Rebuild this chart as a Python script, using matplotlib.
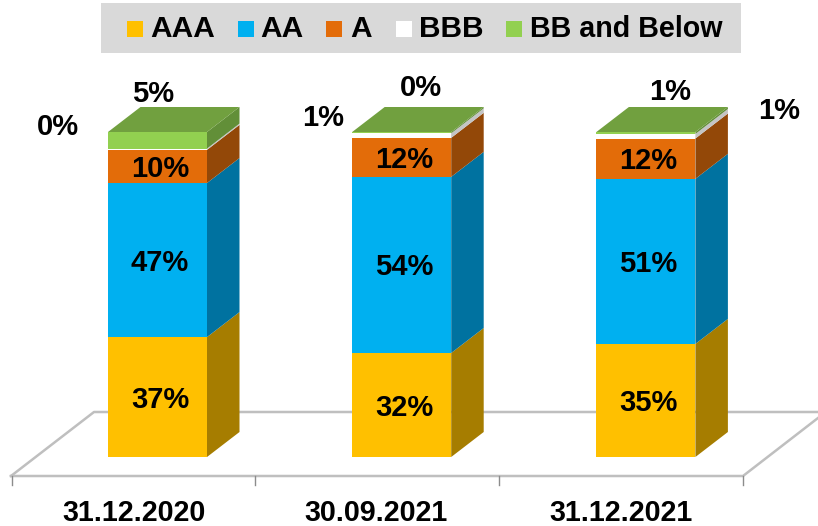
import matplotlib
matplotlib.use("Agg")
import matplotlib.pyplot as plt
from matplotlib.patches import Polygon, Rectangle
import numpy as np

plt.rcParams["font.family"] = ["Liberation Sans", "DejaVu Sans"]

# data
dates = ["31.12.2020", "30.09.2021", "31.12.2021"]
series = ["AAA", "AA", "A", "BBB", "BB and Below"]
aaa = [36.9, 32.0, 34.8]
aa = [47.4, 54.2, 50.8]
a = [10.2, 12.0, 12.4]
bbb = [0.4, 1.4, 1.4]
bb = [5.1, 0.4, 0.6]

front = ["#ffc000", "#00b0f0", "#e36c09", "#ffffff", "#92d050"]
side = ["#a67d00", "#0072a0", "#934808", "#c4c4c4", "#628f38"]
top_col = "#71a03f"
floor_col = "#bfbfbf"

W, H = 818, 526
fig = plt.figure(figsize=(W / 100, H / 100), dpi=100)

# pixel axes for floor, legend and outer labels
bg = fig.add_axes([0, 0, 1, 1], zorder=0)
bg.set_xlim(0, W)
bg.set_ylim(H, 0)
bg.axis("off")

# data axes for the bars: 244 px per category, 3.25 px per percent
px_x, px_y = 244.2, 3.25
x0, y0 = 157.5, 457
ax = fig.add_axes([0, 0, 1, 1], zorder=1)
ax.set_xlim(-x0 / px_x, (W - x0) / px_x)
ax.set_ylim((y0 - H) / px_y, y0 / px_y)
ax.axis("off")
ax.patch.set_alpha(0)

# floor
bg.plot([11, 743, 818], [476, 476, 418], color=floor_col, lw=1.8)
bg.plot([11, 94, 818], [476, 412, 412], color=floor_col, lw=1.8)
for t in [12, 255, 499, 743]:
    bg.plot([t, t], [476, 485], color="#8c8c8c", lw=1.0)

# bars
width = 99 / px_x
dx, dy = 32.5 / px_x, 25 / px_y
stack = np.array([aaa, aa, a, bbb, bb])
bottoms = np.vstack([np.zeros(3), np.cumsum(stack, axis=0)[:-1]])
pos = np.arange(3)

for s in range(5):
    ax.bar(pos, stack[s], width, bottom=bottoms[s], color=front[s], linewidth=0, zorder=2)
    for i in pos:
        xr = i + width / 2
        b, t = bottoms[s][i], bottoms[s][i] + stack[s][i]
        ax.add_patch(Polygon([(xr, b), (xr + dx, b + dy), (xr + dx, t + dy), (xr, t)],
                             facecolor=side[s], linewidth=0, zorder=2))

for i in pos:
    xl, xr = i - width / 2, i + width / 2
    t = stack[:, i].sum()
    ax.add_patch(Polygon([(xl, t), (xl + dx, t + dy), (xr + dx, t + dy), (xr, t)],
                         facecolor=top_col, linewidth=0, zorder=2))

# labels inside the bars
for s in range(3):
    for i in pos:
        ax.text(i + 2.5 / px_x, bottoms[s][i] + stack[s][i] / 2 - 2.5 / px_y, f"{stack[s][i]:.0f}%",
                ha="center", va="center", fontsize=21, fontweight="bold", color="black", zorder=3)

# labels outside the bars
bbb_xy = [(58, 127), (323, 118), (779, 111)]
bb_xy = [(153, 94), (421, 88), (670, 92)]
for i in pos:
    bg.text(*bbb_xy[i], f"{bbb[i]:.0f}%", ha="center", va="center", fontsize=21, fontweight="bold")
    bg.text(*bb_xy[i], f"{bb[i]:.0f}%", ha="center", va="center", fontsize=21, fontweight="bold")

# category labels
date_x = [134, 376, 621]
for d, xp in zip(dates, date_x):
    bg.text(xp, 513, d, ha="center", va="center", fontsize=20.6, fontweight="bold")

# legend
bg.add_patch(Rectangle((101, 3), 640, 50, facecolor="#d9d9d9", linewidth=0))
swatch_x = [127, 238, 326, 396, 506]
text_x = [150, 260, 350, 419, 530]
legend_size = [21.5, 21.5, 21.5, 21.5, 20.6]
for name, col, sx, tx, fs in zip(series, front, swatch_x, text_x, legend_size):
    bg.add_patch(Rectangle((sx, 21), 16, 16, facecolor=col, linewidth=0))
    bg.text(tx, 29, name, ha="left", va="center", fontsize=fs, fontweight="bold")

fig.savefig("out.png", dpi=100)
